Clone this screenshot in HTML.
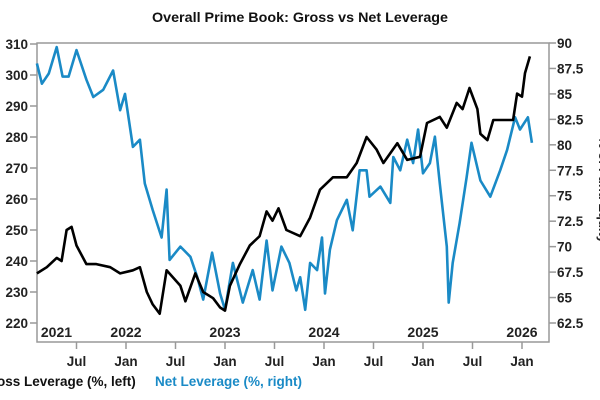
<!DOCTYPE html>
<html><head><meta charset="utf-8"><style>
body{margin:0;background:#fff;}
svg{display:block;font-family:"Liberation Sans",sans-serif;font-weight:bold;}
</style></head><body>
<svg id="chart" width="600" height="400" viewBox="0 0 600 400">
<text x="300" y="22" text-anchor="middle" font-size="14" fill="#111" textLength="296" lengthAdjust="spacingAndGlyphs">Overall Prime Book: Gross vs Net Leverage</text>
<rect x="37" y="43" width="512" height="299" fill="none" stroke="#999" stroke-width="1.5"/>
<g id="axes"></g>
<g id="series"></g>
<text transform="translate(599,190) rotate(90)" text-anchor="middle" font-size="13" fill="#222">% of Fund Equity</text>
<text x="-3" y="386" font-size="13.5" fill="#111">oss Leverage (%, left)</text>
<text x="155" y="386" font-size="13.5" fill="#1a8ac6">Net Leverage (%, right)</text>
</svg>
<script>
const leftTicks=[220,230,240,250,260,270,280,290,300,310];
const rightTicks=[62.5,65,67.5,70,72.5,75,77.5,80,82.5,85,87.5,90];
const rightTickLabels=["62.5","65","67.5","70","72.5","75","77.5","80","82.5","85","87.5","90"];
const yearLabels=["2021","2022","2023","2024","2025","2026"];
const yearPos=[2021.1,2022,2023,2024,2025,2026];
const monthTicks=[2021.5,2022,2022.5,2023,2023.5,2024,2024.5,2025,2025.5,2026];
const monthLabels=["Jul","Jan","Jul","Jan","Jul","Jan","Jul","Jan","Jul","Jan"];
const grossT=[2021.1,2021.2,2021.3,2021.35,2021.4,2021.45,2021.5,2021.6,2021.7,2021.84,2021.94,2022.07,2022.14,2022.21,2022.27,2022.34,2022.41,2022.55,2022.6,2022.7,2022.78,2022.88,2022.95,2023.0,2023.05,2023.15,2023.25,2023.35,2023.42,2023.48,2023.54,2023.62,2023.76,2023.86,2023.96,2024.09,2024.23,2024.33,2024.43,2024.53,2024.6,2024.74,2024.84,2024.97,2025.04,2025.17,2025.24,2025.34,2025.4,2025.47,2025.55,2025.58,2025.65,2025.71,2025.85,2025.91,2025.95,2026.0,2026.03,2026.08];
const grossV=[236,238,241,240,250,251,245,239,239,238,236,237,238,230,226,223,237,232,227,236,230,228,225,224,232,239,245,248,256,253,257,250,248,254,263,267,267,271.6,280,276,271.6,278,272.6,273.6,284.5,286.5,283,291,289,295.8,289,281,279,285.5,285.5,285.5,294,293,300.6,306];
const netT=[2021.1,2021.15,2021.22,2021.3,2021.36,2021.42,2021.5,2021.6,2021.67,2021.77,2021.87,2021.94,2021.99,2022.07,2022.14,2022.19,2022.27,2022.36,2022.41,2022.44,2022.55,2022.65,2022.72,2022.78,2022.87,2022.95,2023.0,2023.08,2023.18,2023.28,2023.35,2023.42,2023.48,2023.57,2023.65,2023.72,2023.76,2023.81,2023.86,2023.93,2023.98,2024.01,2024.06,2024.13,2024.23,2024.29,2024.36,2024.43,2024.46,2024.57,2024.67,2024.7,2024.77,2024.84,2024.9,2024.95,2025.0,2025.07,2025.12,2025.17,2025.24,2025.26,2025.3,2025.37,2025.44,2025.49,2025.58,2025.68,2025.78,2025.85,2025.93,2025.98,2026.06,2026.1];
const netV=[88,86,87,89.6,86.7,86.7,89.3,86.4,84.7,85.4,87.3,83.4,85,79.8,80.5,76.2,73.6,70.9,75.6,68.7,70,69,67,64.8,69.4,65.4,63.8,68.4,64.5,67.7,64.8,70.6,65.7,70,68.4,65.7,67,63.8,68.4,67.7,70.9,65.4,69.7,72.6,74.6,71.6,77.5,77.5,74.9,75.9,74.3,78.8,77.5,80.5,78.2,81.5,77.2,78.2,80.8,76.2,70,64.5,68.4,72.3,76.8,80.2,76.5,74.9,77.5,79.5,82.7,81.5,82.7,80.2];
const NS="http://www.w3.org/2000/svg";
const X=t=>27+(t-2021)*99;
const YL=v=>44+(310-v)*3.1;
const YR=v=>43+(90-v)*(280/27.5);
const axes=document.getElementById('axes'),ser=document.getElementById('series');
function mk(tag,attrs,parent,txt){const e=document.createElementNS(NS,tag);for(const k in attrs)e.setAttribute(k,attrs[k]);if(txt!==undefined)e.textContent=txt;parent.appendChild(e);return e;}
leftTicks.forEach(v=>{
  const l=mk('line',{x1:30,x2:37,y1:YL(v),y2:YL(v),stroke:'#999','stroke-width':1.5},axes);
  
  
  const t=mk('text',{x:28,y:YL(v)+5,'text-anchor':'end','font-size':13.5,fill:'#222'},axes,String(v));
  
  
});
rightTicks.forEach((v,i)=>{
  const l=mk('line',{x1:549,x2:556,y1:YR(v),y2:YR(v),stroke:'#999','stroke-width':1.5},axes);
  
  
  const t=mk('text',{x:557,y:YR(v)+5,'font-size':13.5,fill:'#222'},axes,rightTickLabels[i]);
  
  
});
yearLabels.forEach((s,i)=>{
  const t=mk('text',{x:X(yearPos[i])+(i==0?4:0),y:337,'text-anchor':i==0?'start':'middle','font-size':14,fill:'#222'},axes,s);
  
  
});
monthTicks.forEach((m,i)=>{
  const l=mk('line',{x1:X(m),x2:X(m),y1:342,y2:349,stroke:'#999','stroke-width':1.5},axes);
  
  
  const t=mk('text',{x:X(m),y:366,'text-anchor':'middle','font-size':13.5,fill:'#222'},axes,monthLabels[i]);
  
  
});
const np=mk('polyline',{points:netT.map((t,i)=>X(t).toFixed(1)+','+YR(netV[i]).toFixed(1)).join(' '),fill:'none',stroke:'#1a8ac6','stroke-width':2.6,'stroke-linejoin':'round'},ser);


const gp=mk('polyline',{points:grossT.map((t,i)=>X(t).toFixed(1)+','+YL(grossV[i]).toFixed(1)).join(' '),fill:'none',stroke:'#000','stroke-width':2.6,'stroke-linejoin':'round'},ser);


</script>
</body></html>
